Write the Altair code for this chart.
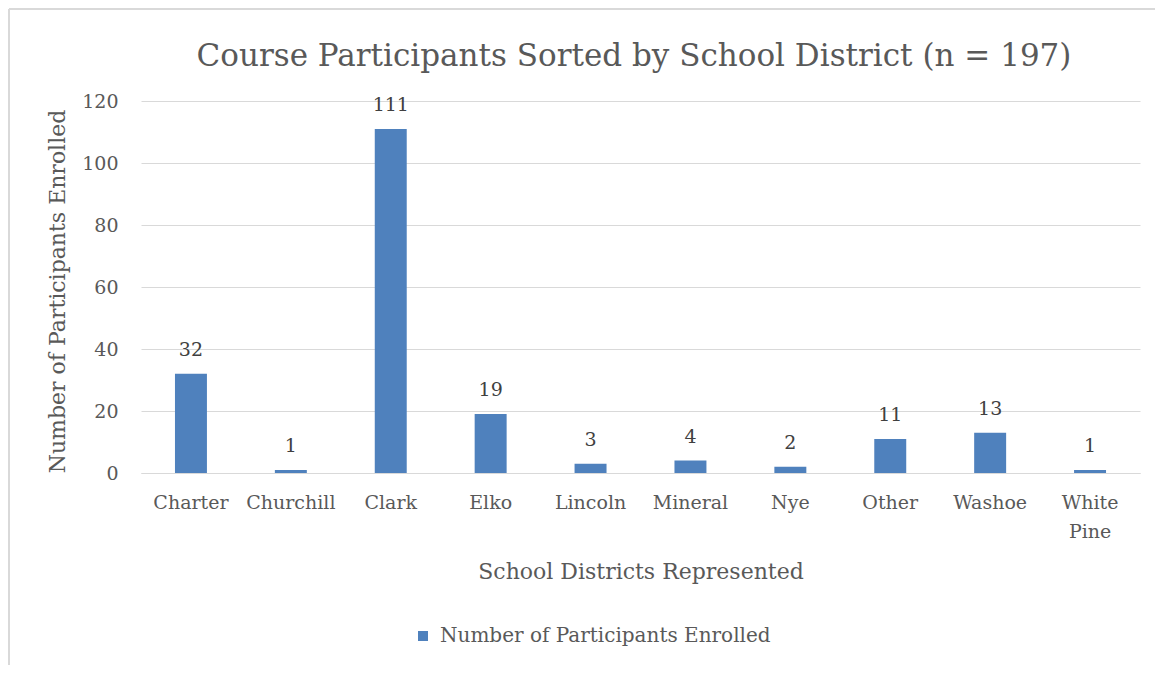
import altair as alt
import pandas as pd

districts = ["Charter", "Churchill", "Clark", "Elko", "Lincoln", "Mineral", "Nye", "Other", "Washoe", "White Pine"]
enrolled = [32, 1, 111, 19, 3, 4, 2, 11, 13, 1]
series_name = "Number of Participants Enrolled"
title_text = "Course Participants Sorted by School District (n = 197)"

df = pd.DataFrame({"District": districts, "Enrolled": enrolled, "Series": [series_name] * len(districts)})

FONT = "DejaVu Serif"
TXT = "#595959"
BAR = "#4F81BD"

x_enc = alt.X("District:N", sort=districts,
              scale=alt.Scale(paddingInner=0.68, paddingOuter=0.34),
              axis=alt.Axis(title="School Districts Represented", labelAngle=0,
                            labelExpr="datum.label == 'White Pine' ? ['White', 'Pine'] : datum.label",
                            labelLineHeight=29, labelFontSize=19, labelColor=TXT, labelFont=FONT,
                            labelPadding=29, labelBaseline="middle", labelLimit=0,
                            domainColor="#D9D9D9", domainWidth=1, ticks=False,
                            titleFont=FONT, titleFontSize=22, titleFontWeight="normal",
                            titleColor=TXT, titlePadding=20))

bars = alt.Chart(df).mark_bar(color=BAR).encode(
    x=x_enc,
    y=alt.Y("Enrolled:Q", scale=alt.Scale(domain=[0, 120]),
            axis=alt.Axis(title="Number of Participants Enrolled", values=[0, 20, 40, 60, 80, 100, 120],
                          labelFontSize=19, labelColor=TXT, labelFont=FONT, labelPadding=23,
                          gridColor="#D9D9D9", gridWidth=1, domain=False, ticks=False,
                          titleFont=FONT, titleFontSize=22, titleFontWeight="normal", titleColor=TXT,
                          titleAngle=-90, titleX=-84, titleY=190, titleAlign="center",
                          titleBaseline="middle")),
    color=alt.Color("Series:N", scale=alt.Scale(range=[BAR]),
                    legend=alt.Legend(title=None, orient="none", legendX=272, legendY=525,
                                      symbolType="square", symbolSize=100, symbolStrokeWidth=0,
                                      labelFont=FONT, labelFontSize=20, labelColor=TXT, labelOffset=7,
                                      labelLimit=0)),
)

labels = alt.Chart(df).mark_text(baseline="bottom", dy=-14, font=FONT, fontSize=19, color="#404040").encode(
    x=alt.X("District:N", sort=districts),
    y="Enrolled:Q",
    text="Enrolled:Q",
)

title = alt.Chart(pd.DataFrame({"t": [title_text]})).mark_text(
    font=FONT, fontSize=31, color=TXT, align="center", baseline="middle"
).encode(x=alt.value(493), y=alt.value(-44), text="t:N")

border_top = alt.Chart(df).mark_rule(color="#D9D9D9", strokeWidth=2).encode(
    x=alt.value(-132), x2=alt.value(1014), y=alt.value(-92)
)
border_left = alt.Chart(df).mark_rule(color="#D9D9D9", strokeWidth=2).encode(
    x=alt.value(-132), y=alt.value(-92), y2=alt.value(580)
)

chart = alt.layer(border_top, border_left, bars, labels, title).properties(
    width=999, height=372,
    autosize=alt.AutoSizeParams(type="none"),
    padding={"left": 133, "top": 93, "right": 15, "bottom": 192},
).configure_view(stroke=None)

chart.save("out.html", embed_options={"renderer": "svg", "actions": False})
